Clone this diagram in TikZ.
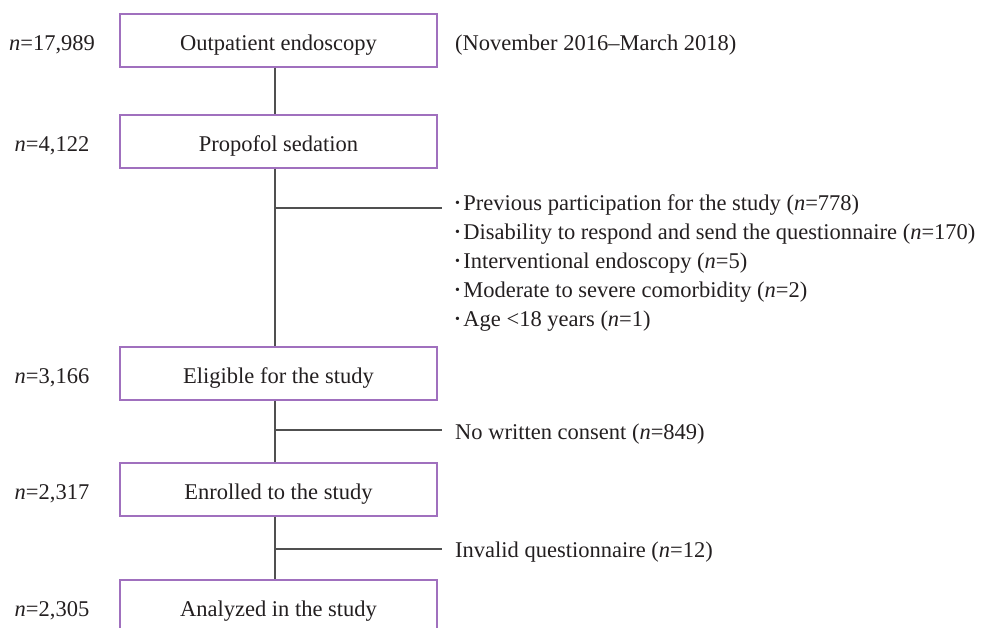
\documentclass[tikz,border=0pt]{standalone}
\usepackage{fontspec}
\setmainfont{Liberation Serif}
\definecolor{boxpurple}{RGB}{160,112,190}
\definecolor{linegray}{RGB}{80,80,80}
\definecolor{txt}{RGB}{35,31,32}
\begin{document}
\begin{tikzpicture}[x=1pt,y=-1pt,
  every node/.style={text=txt,font=\fontsize{22.5}{27}\selectfont},
  stagebox/.style={draw=boxpurple,line width=1.2pt,minimum width=317pt,minimum height=53pt,inner sep=0pt,fill=white,text height=19pt,text depth=0pt},
  nlabel/.style={inner sep=0pt,text height=19pt,text depth=0pt},
  side/.style={anchor=base west,inner sep=0pt},
  conn/.style={draw=linegray,line width=1.2pt}]
\clip (0,0) rectangle (983,627);
\useasboundingbox (0,0) rectangle (983,627);
\coordinate (sp) at (275,0);
% boxes
\node[stagebox] (b1) at (278.5,40.5) {Outpatient endoscopy};
\node[stagebox] (b2) at (278.5,141.5) {Propofol sedation};
\node[stagebox] (b3) at (278.5,373.5) {Eligible for the study};
\node[stagebox] (b4) at (278.5,489.5) {Enrolled to the study};
\node[stagebox] (b5) at (278.5,606.5) {Analyzed in the study};
% left counts
\node[nlabel] (n1) at (52,40.5) {\textit{n}=17,989};
\node[nlabel] (n2) at (52,141.5) {\textit{n}=4,122};
\node[nlabel] (n3) at (52,373.5) {\textit{n}=3,166};
\node[nlabel] (n4) at (52,489.5) {\textit{n}=2,317};
\node[nlabel] (n5) at (52,606.5) {\textit{n}=2,305};
% right texts
\node[side] (date) at (455,50) {(November 2016–March 2018)};
\newcommand{\bul}{\raisebox{0.12em}{\fontsize{14}{14}\selectfont•}\hspace{0.15em}}
\node[side] (r1) at (455,210) {\bul Previous participation for the study (\textit{n}=778)};
\node[side] (r2) at (455,239) {\bul Disability to respond and send the questionnaire (\textit{n}=170)};
\node[side] (r3) at (455,268) {\bul Interventional endoscopy (\textit{n}=5)};
\node[side] (r4) at (455,297) {\bul Moderate to severe comorbidity (\textit{n}=2)};
\node[side] (r5) at (455,326) {\bul Age <18 years (\textit{n}=1)};
\node[side] (c1) at (455,439) {No written consent (\textit{n}=849)};
\node[side] (c2) at (455,557) {Invalid questionnaire (\textit{n}=12)};
% branch ends
\coordinate (e1) at (442,208);
\coordinate (e2) at (442,430);
\coordinate (e3) at (442,549);
% connectors
\draw[conn] (b1.south -| sp) -- (b2.north -| sp);
\draw[conn] (b2.south -| sp) -- (b3.north -| sp);
\draw[conn] (b3.south -| sp) -- (b4.north -| sp);
\draw[conn] (b4.south -| sp) -- (b5.north -| sp);
\draw[conn] (e1 -| sp) -- (e1);
\draw[conn] (e2 -| sp) -- (e2);
\draw[conn] (e3 -| sp) -- (e3);
\end{tikzpicture}
\end{document}
